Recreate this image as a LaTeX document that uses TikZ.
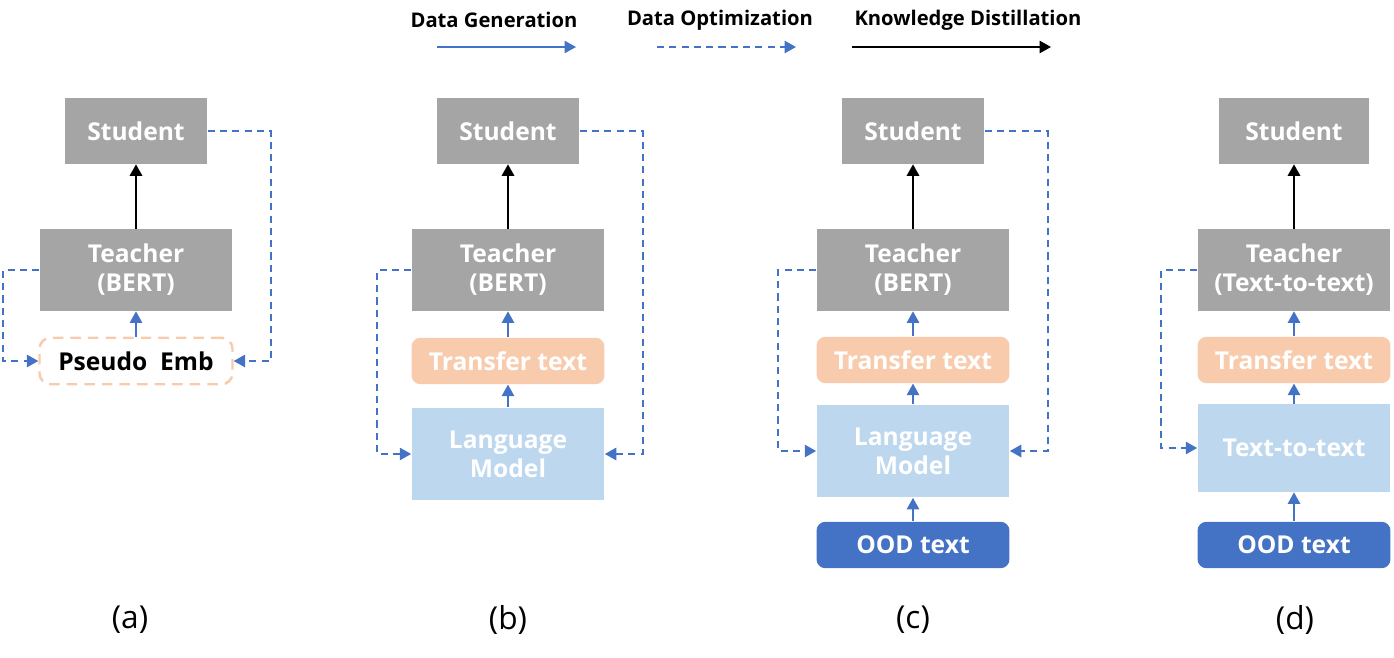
\documentclass[tikz,border=0pt]{standalone}
\usepackage{fontspec}
\setmainfont{Open Sans}
\usetikzlibrary{arrows.meta}
\definecolor{boxgray}{HTML}{A5A5A5}
\definecolor{boxorange}{HTML}{F8CBAD}
\definecolor{boxlight}{HTML}{BDD7EE}
\definecolor{boxblue}{HTML}{4472C4}

\begin{document}
\begin{tikzpicture}[
    x=0.02cm, y=-0.02cm,
    box/.style={minimum width=3.86cm, minimum height=1.64cm, inner sep=0pt,
        align=center, text=white, font=\bfseries\fontsize{14}{16.5}\selectfont},
    studentbox/.style={box, fill=boxgray, minimum width=2.86cm, minimum height=1.32cm},
    teacherbox/.style={box, fill=boxgray},
    transferbox/.style={box, fill=boxorange, rounded corners=0.18cm, minimum height=0.93cm},
    lmbox/.style={box, fill=boxlight, minimum height=1.86cm},
    oodbox/.style={box, fill=boxblue, rounded corners=0.18cm, minimum height=0.93cm},
    embbox/.style={box, text=black, fill=white, draw=boxorange, line width=1.4pt,
        dash pattern=on 6pt off 4pt, rounded corners=0.22cm, minimum height=0.93cm},
    kdline/.style={-{Triangle[length=6.5pt,width=7pt]}, line width=1.1pt, black},
    genline/.style={-{Triangle[length=6.5pt,width=7pt]}, line width=0.8pt, boxblue},
    optline/.style={-{Triangle[length=6.5pt,width=7pt]}, line width=1.1pt, boxblue,
        dash pattern=on 4pt off 3pt},
    legend/.style={font=\bfseries\fontsize{11.5}{13}\selectfont},
    caption/.style={font=\fontsize{18}{20}\selectfont}
]
\useasboundingbox (0,0) rectangle (1394,658);

% legend
\node[legend] (lgen) at (494,20) {Data Generation};
\node[legend] (lopt) at (720,20) {Data Optimization};
\node[legend] (lkd)  at (968,20) {Knowledge Distillation};
\coordinate (g1) at (437,47);  \coordinate (g2) at (576,47);
\coordinate (o1) at (657,47);  \coordinate (o2) at (796,47);
\coordinate (k1) at (852,47);  \coordinate (k2) at (1051,47);
\draw[genline] (g1) -- (g2);
\draw[optline] (o1) -- (o2);
\draw[kdline]  (k1) -- (k2);

% (a)
\node[studentbox] (sa) at (136,131) {Student};
\node[teacherbox] (ta) at (136,270) {Teacher\\(BERT)};
\node[embbox]     (pa) at (136,361) {Pseudo~~Emb};
\draw[kdline]  (ta) -- (sa);
\draw[genline] (pa) -- (ta);
\draw[optline] (ta.west) -- ++(-36,0) |- (pa.west);
\draw[optline] (sa.east) -- ++(63,0) |- (pa.east);
\node[caption] (ca) at (130,620) {(a)};

% (b)
\node[studentbox]  (sb) at (508,131) {Student};
\node[teacherbox]  (tb) at (508,270) {Teacher\\(BERT)};
\node[transferbox] (pb) at (508,361) {Transfer text};
\node[lmbox]       (lb) at (508,454) {Language\\Model};
\draw[kdline]  (tb) -- (sb);
\draw[genline] (pb) -- (tb);
\draw[genline] (lb) -- (pb);
\draw[optline] (tb.west) -- ++(-34,0) |- (lb.west);
\draw[optline] (sb.east) -- ++(63,0) |- (lb.east);
\node[caption] (cb) at (508,620) {(b)};

% (c)
\node[studentbox]  (sc) at (913,131) {Student};
\node[teacherbox]  (tc) at (913,270) {Teacher\\(BERT)};
\node[transferbox] (pc) at (913,360) {Transfer text};
\node[lmbox]       (lc) at (913,451) {Language\\Model};
\node[oodbox]      (oc) at (913,545) {OOD text};
\draw[kdline]  (tc) -- (sc);
\draw[genline] (pc) -- (tc);
\draw[genline] (lc) -- (pc);
\draw[genline] (oc) -- (lc);
\draw[optline] (tc.west) -- ++(-38,0) |- (lc.west);
\draw[optline] (sc.east) -- ++(63,0) |- (lc.east);
\node[caption] (cc) at (913,620) {(c)};

% (d)
\node[studentbox, minimum width=3cm] (sd) at (1294,131) {Student};
\node[teacherbox]  (td) at (1294,270) {Teacher\\(Text-to-text)};
\node[transferbox] (pd) at (1294,360) {Transfer text};
\node[lmbox, minimum height=1.76cm] (ld) at (1294,448) {Text-to-text};
\node[oodbox]      (od) at (1294,545) {OOD text};
\draw[kdline]  (td) -- (sd);
\draw[genline] (pd) -- (td);
\draw[genline] (ld) -- (pd);
\draw[genline] (od) -- (ld);
\draw[optline] (td.west) -- ++(-36,0) |- (ld.west);
\node[caption] (cd) at (1295,620) {(d)};
\end{tikzpicture}
\end{document}
